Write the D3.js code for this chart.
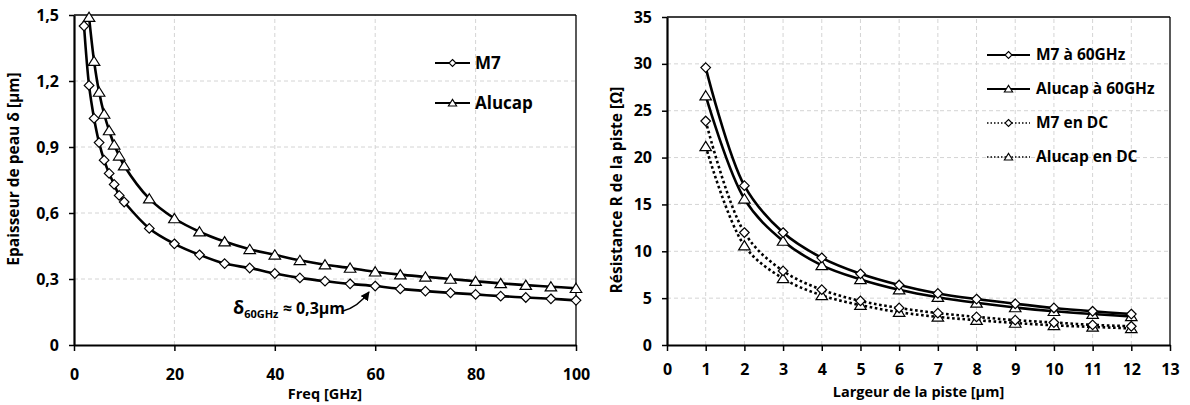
<!DOCTYPE html>
<html><head><meta charset="utf-8">
<script src="https://cdn.jsdelivr.net/npm/d3@7"></script>
<style>
body{margin:0;background:#fff}
svg{display:block}
text{font-family:"Open Sans",sans-serif;font-weight:700;fill:#000}
</style>
</head><body><svg id="c" width="1190" height="405"></svg>
<script>
// ---------- Left chart data ----------
const freqM7 = [2,3,4,5,6,7,8,9,10,15,20,25,30,35,40,45,50,55,60,65,70,75,80,85,90,95,100];
const deltaM7 = [1.45,1.18,1.03,0.92,0.84,0.78,0.73,0.68,0.65,0.53,0.46,0.41,0.37,0.35,0.325,0.305,0.29,0.278,0.268,0.255,0.245,0.237,0.23,0.222,0.216,0.21,0.203];
const freqAlucap = [3,4,5,6,7,8,9,10,15,20,25,30,35,40,45,50,55,60,65,70,75,80,85,90,95,100];
const deltaAlucap = [1.49,1.29,1.15,1.05,0.975,0.91,0.86,0.815,0.665,0.575,0.515,0.47,0.435,0.41,0.385,0.365,0.35,0.333,0.32,0.31,0.30,0.29,0.28,0.272,0.265,0.258];
const freqTicks = [0,20,40,60,80,100];
const deltaTicks = [0,0.3,0.6,0.9,1.2,1.5];
const deltaTickLabels = ["0","0,3","0,6","0,9","1,2","1,5"];

// ---------- Right chart data ----------
const largeur = [1,2,3,4,5,6,7,8,9,10,11,12];
const rM7_60 = [29.6,17.0,12.0,9.3,7.6,6.4,5.5,4.9,4.4,3.95,3.6,3.3];
const rAlu_60 = [26.6,15.6,11.1,8.5,7.0,5.9,5.1,4.5,4.0,3.6,3.3,3.05];
const rM7_DC = [23.9,12.0,7.9,5.9,4.7,3.95,3.4,3.0,2.65,2.4,2.15,2.0];
const rAlu_DC = [21.2,10.6,7.1,5.3,4.25,3.5,3.0,2.65,2.35,2.1,1.93,1.77];
const largeurTicks = [0,1,2,3,4,5,6,7,8,9,10,11,12,13];
const rTicks = [0,5,10,15,20,25,30,35];

const svg = d3.select("#c");

function diamond(r){return `M0,${-r}L${r},0L0,${r}L${-r},0Z`;}
function triangle(r){return `M0,${-r}L${r*1.15},${r*0.85}L${-r*1.15},${r*0.85}Z`;}

function frame(g, x, y, xt, yt, ytLabels, xGrid, yGrid, xPad){
  const [x0,x1] = x.range(), [yb,yt0] = y.range();
  g.selectAll(".vg").data(xGrid).join("line")
    .attr("x1",d=>x(d)).attr("x2",d=>x(d)).attr("y1",yb).attr("y2",yt0)
    .attr("stroke","#d4d4d4").attr("stroke-width",1).attr("stroke-dasharray","4,3");
  g.selectAll(".hg").data(yGrid).join("line")
    .attr("y1",d=>y(d)).attr("y2",d=>y(d)).attr("x1",x0).attr("x2",x1)
    .attr("stroke","#d4d4d4").attr("stroke-width",1).attr("stroke-dasharray","4,3");
  g.append("line").attr("x1",x0).attr("x2",x1).attr("y1",yt0).attr("y2",yt0).attr("stroke","#000").attr("stroke-width",1.3);
  g.append("line").attr("x1",x1).attr("x2",x1).attr("y1",yt0).attr("y2",yb).attr("stroke","#000").attr("stroke-width",1.3);
  const xa = g.append("g").attr("transform",`translate(0,${yb})`)
    .call(d3.axisBottom(x).tickValues(xt).tickSize(6).tickPadding(xPad).tickSizeOuter(0));
  const ya = g.append("g").attr("transform",`translate(${x0},0)`)
    .call(d3.axisLeft(y).tickValues(yt).tickSize(5).tickPadding(10).tickSizeOuter(0)
      .tickFormat((d,i)=>ytLabels ? ytLabels[i] : d));
  [xa,ya].forEach(a=>{
    a.select(".domain").attr("stroke","#000").attr("stroke-width",2.2);
    a.selectAll(".tick line").attr("stroke","#000").attr("stroke-width",1.5);
    a.selectAll(".tick text").style("font-family",'"Open Sans",sans-serif').style("font-weight",700).style("font-size","16px").attr("fill","#000");
  });
}

function series(g, x, y, xs, ys, shape, dotted){
  const pts = xs.map((v,i)=>[v,ys[i]]);
  const line = d3.line().x(d=>x(d[0])).y(d=>y(d[1])).curve(d3.curveCatmullRom.alpha(0.5));
  g.append("path").attr("d",line(pts)).attr("fill","none").attr("stroke","#000")
    .attr("stroke-width",2.6).attr("stroke-dasharray",dotted?"2.6,2.6":null);
  g.selectAll(null).data(pts).join("path")
    .attr("transform",d=>`translate(${x(d[0])},${y(d[1])})`)
    .attr("d",shape==="d"?diamond(4.8):triangle(5))
    .attr("fill","#fff").attr("stroke","#000").attr("stroke-width",1.2);
}

// ===== Left chart =====
const xL = d3.scaleLinear().domain([0,100]).range([74,576]);
const yL = d3.scaleLinear().domain([0,1.5]).range([345,15]);
const gL = svg.append("g");
frame(gL, xL, yL, freqTicks, deltaTicks, deltaTickLabels, [20,40,60,80], [0.3,0.6,0.9,1.2], 18);
series(gL, xL, yL, freqAlucap, deltaAlucap, "t", false);
series(gL, xL, yL, freqM7, deltaM7, "d", false);

gL.append("text").attr("x",(74+576)/2).attr("y",399).attr("text-anchor","middle").style("font-size","14.5px").text("Freq [GHz]");
gL.append("text").attr("transform","translate(19,169) rotate(-90)").attr("text-anchor","middle").style("font-size","15.5px").text("Epaisseur de peau δ [µm]");

const legL = [{name:"M7",shape:"d",y:63},{name:"Alucap",shape:"t",y:103}];
legL.forEach(l=>{
  gL.append("line").attr("x1",435).attr("x2",470).attr("y1",l.y).attr("y2",l.y).attr("stroke","#000").attr("stroke-width",2.2);
  gL.append("path").attr("transform",`translate(452.5,${l.y})`).attr("d",l.shape==="d"?diamond(3.5):triangle(3.6))
    .attr("fill","#fff").attr("stroke","#000").attr("stroke-width",1.1);
  gL.append("text").attr("x",475).attr("y",l.y).attr("dy","0.35em").style("font-size","17px").text(l.name);
});

const ann = gL.append("text").attr("x",233).attr("y",314).style("font-size","16px");
ann.append("tspan").style("font-size","18px").text("δ");
ann.append("tspan").attr("dy",4).style("font-size","11px").text("60GHz");
ann.append("tspan").attr("dy",-4).text(" ≈ 0,3µm");
svg.append("defs").append("marker").attr("id","ah").attr("viewBox","0 0 10 10").attr("refX",9).attr("refY",5)
  .attr("markerWidth",7).attr("markerHeight",7).attr("orient","auto")
  .append("path").attr("d","M0,0L10,5L0,10Z").attr("fill","#000");
gL.append("path").attr("d","M343,311 Q358,307 369,292").attr("fill","none").attr("stroke","#000").attr("stroke-width",1.3).attr("marker-end","url(#ah)");

// ===== Right chart =====
const xR = d3.scaleLinear().domain([0,13]).range([667,1170]);
const yR = d3.scaleLinear().domain([0,35]).range([345,17]);
const gR = svg.append("g");
frame(gR, xR, yR, largeurTicks, rTicks, null, largeurTicks.slice(1,13), rTicks.slice(1,7), 13);
series(gR, xR, yR, largeur, rAlu_DC, "t", true);
series(gR, xR, yR, largeur, rM7_DC, "d", true);
series(gR, xR, yR, largeur, rAlu_60, "t", false);
series(gR, xR, yR, largeur, rM7_60, "d", false);

gR.append("text").attr("x",(667+1170)/2).attr("y",397).attr("text-anchor","middle").style("font-size","14.5px").text("Largeur de la piste [µm]");
gR.append("text").attr("transform","translate(622,190) rotate(-90)").attr("text-anchor","middle").style("font-size","15.5px").text("Résistance R de la piste [Ω]");

const legR = [
  {name:"M7 à 60GHz",shape:"d",dotted:false,y:55},
  {name:"Alucap à 60GHz",shape:"t",dotted:false,y:89},
  {name:"M7 en DC",shape:"d",dotted:true,y:123},
  {name:"Alucap en DC",shape:"t",dotted:true,y:157}
];
legR.forEach(l=>{
  gR.append("line").attr("x1",987).attr("x2",1030).attr("y1",l.y).attr("y2",l.y).attr("stroke","#000")
    .attr("stroke-width",l.dotted?1.5:2.2).attr("stroke-dasharray",l.dotted?"1.5,2":null);
  gR.append("path").attr("transform",`translate(1008.5,${l.y})`).attr("d",l.shape==="d"?diamond(3.5):triangle(3.6))
    .attr("fill","#fff").attr("stroke","#000").attr("stroke-width",1.1);
  gR.append("text").attr("x",1036).attr("y",l.y).attr("dy","0.35em").style("font-size","15.5px").text(l.name);
});
</script>
</body></html>
